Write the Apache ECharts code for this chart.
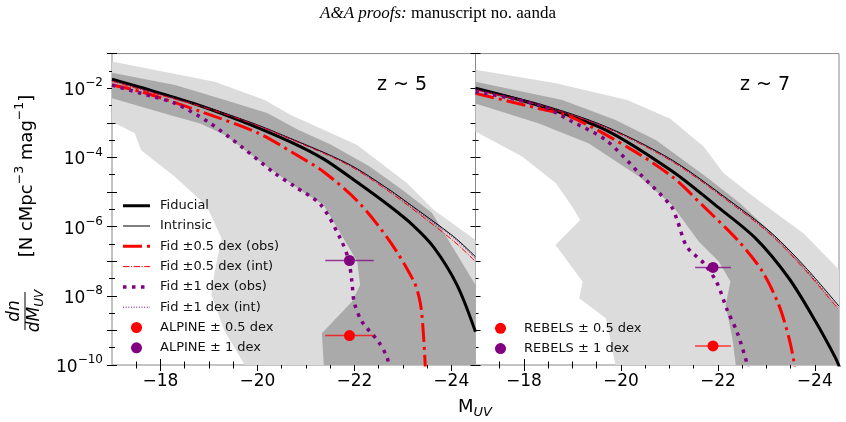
<!DOCTYPE html>
<html lang="en">
<head>
<meta charset="UTF-8">
<title>UV LF</title>
<script src="https://cdn.jsdelivr.net/npm/echarts@6/dist/echarts.min.js"></script>
<style>html,body{margin:0;padding:0;background:#fff}</style>
</head>
<body>
<div id="main" style="width:846px;height:422px"></div>
<script>
// every point is [M_UV, log10(dn/dM_UV)]

// z ~ 5 panel
var z5_fiducial = [[-17,-1.74],[-17.6,-1.98],[-18.64,-2.42],[-19.67,-2.95],[-20.68,-3.55],[-21.37,-4.05],[-22.06,-4.72],[-22.74,-5.42],[-23.2,-5.95],[-23.64,-6.6],[-24.12,-7.69],[-24.5,-9.04]];
var z5_intrinsic = [[-17,-1.74],[-18,-2.16],[-19,-2.57],[-20,-3.06],[-20.68,-3.45],[-21.57,-3.98],[-22.06,-4.33],[-22.74,-4.95],[-23.09,-5.3],[-24.05,-6.29],[-24.5,-6.87]];
var z5_halfObs = [[-17,-1.91],[-17.6,-2.1],[-18.84,-2.68],[-20.02,-3.3],[-20.75,-3.88],[-21.37,-4.42],[-22.09,-5.3],[-22.74,-6.44],[-23.23,-7.59],[-23.36,-8.2],[-23.42,-9.0],[-23.47,-10.2]];
var z5_halfInt = [[-17,-1.8],[-18,-2.2],[-19,-2.6],[-20,-3.08],[-20.68,-3.47],[-21.57,-4.01],[-22.06,-4.37],[-22.74,-5.01],[-23.09,-5.37],[-24.05,-6.42],[-24.5,-7.01]];
var z5_oneObs = [[-17,-1.91],[-17.6,-2.15],[-18.3,-2.44],[-18.98,-2.97],[-19.67,-3.69],[-20.36,-4.46],[-20.77,-4.84],[-21.3,-5.36],[-21.71,-6.34],[-21.88,-6.95],[-21.95,-7.6],[-22.0,-8.2],[-22.16,-8.75],[-22.5,-9.33],[-22.68,-9.8],[-22.72,-10.2]];
var z5_oneInt = [[-17,-1.78],[-18,-2.18],[-19,-2.58],[-20,-3.07],[-20.68,-3.46],[-21.57,-3.99],[-22.06,-4.35],[-22.74,-4.97],[-23.09,-5.33],[-24.05,-6.33],[-24.5,-6.92]];
var z5_lightTop = [[-17,-1.23],[-19.12,-1.81],[-20.15,-2.34],[-20.68,-2.77],[-22.06,-3.64],[-23.09,-4.75],[-23.64,-5.52],[-24.5,-6.39]];
var z5_lightBottom = [[-24.5,-10],[-19.74,-10],[-19.33,-9.04],[-19.05,-7.98],[-19.12,-7.3],[-19.26,-6.34],[-18.95,-5.4],[-18.3,-4.56],[-17.6,-3.79],[-17.47,-3.3],[-17,-2.97]];
var z5_darkTop = [[-17,-1.55],[-18.3,-1.91],[-19.33,-2.34],[-20.2,-2.72],[-20.84,-3.2],[-21.5,-3.62],[-22.3,-4.25],[-23.0,-4.95],[-23.6,-5.6],[-24.5,-7.69]];
var z5_darkBottom = [[-24.5,-10],[-21.37,-10],[-21.33,-9.08],[-21.95,-8.17],[-22.12,-7.69],[-22.06,-7.01],[-21.37,-5.38],[-20.88,-4.94],[-20.2,-4.27],[-19.33,-3.35],[-18.82,-3.02],[-18.3,-2.82],[-17,-2.29]];
var z5_pointHalf = [-21.9, -9.15], z5_pointOne = [-21.9, -6.98], z5_xerr = 0.5;

// z ~ 7 panel
var z7_fiducial = [[-17,-2.0],[-18.31,-2.5],[-19.69,-3.21],[-21.06,-4.4],[-21.95,-5.38],[-22.78,-6.34],[-23.47,-7.5],[-24.02,-8.75],[-24.43,-9.8],[-24.52,-10.1]];
var z7_intrinsic = [[-17,-2.0],[-18.31,-2.45],[-19.69,-3.11],[-21.06,-4.08],[-22.37,-5.38],[-23.12,-6.2],[-23.81,-7.18],[-24.5,-8.3]];
var z7_halfObs = [[-17,-2.15],[-18.31,-2.59],[-19.0,-2.85],[-20.24,-3.79],[-21.06,-4.56],[-21.68,-5.38],[-22.44,-6.44],[-22.92,-7.3],[-23.26,-8.27],[-23.47,-9.23],[-23.57,-9.9],[-23.6,-10.2]];
var z7_halfInt = [[-17,-2.05],[-18.31,-2.49],[-19.69,-3.14],[-21.06,-4.12],[-22.37,-5.43],[-23.12,-6.27],[-23.81,-7.27],[-24.5,-8.41]];
var z7_oneObs = [[-17,-2.1],[-18.31,-2.49],[-19.0,-2.97],[-19.69,-3.5],[-20.38,-4.46],[-21.03,-5.4],[-21.16,-5.81],[-21.36,-6.58],[-21.71,-7.06],[-21.98,-7.62],[-22.19,-8.4],[-22.4,-9.06],[-22.6,-9.95],[-22.63,-10.2]];
var z7_oneInt = [[-17,-2.03],[-18.31,-2.47],[-19.69,-3.13],[-21.06,-4.1],[-22.37,-5.41],[-23.12,-6.24],[-23.81,-7.23],[-24.5,-8.36]];
var z7_lightTop = [[-17,-1.47],[-18.66,-1.86],[-20.13,-2.34],[-21.02,-2.88],[-21.71,-3.69],[-22.12,-4.46],[-22.74,-5.14],[-23.77,-6.2],[-24.5,-7.25]];
var z7_lightBottom = [[-24.5,-10],[-19.89,-10],[-19.69,-8.65],[-19.14,-8.07],[-19.21,-7.59],[-18.65,-6.53],[-19.16,-5.81],[-19.0,-5.43],[-18.66,-4.75],[-17.97,-3.98],[-17,-3.25]];
var z7_darkTop = [[-17,-1.81],[-18.79,-2.34],[-19.89,-2.92],[-20.72,-3.5],[-21.75,-4.55],[-22.44,-5.3],[-23.2,-6.3],[-23.9,-7.35],[-24.5,-8.4]];
var z7_darkBottom = [[-24.5,-10],[-22.37,-10],[-22.3,-9.23],[-22.16,-8.27],[-22.26,-7.59],[-22.02,-7.01],[-21.61,-6.44],[-21.06,-5.38],[-20.38,-4.56],[-19.34,-3.6],[-18.31,-3.02],[-17,-2.44]];
var z7_pointHalf = [-21.9, -9.45], z7_pointOne = [-21.9, -7.18], z7_xerr = 0.37;

// axis ticks
var xMajor = [-24, -22, -20, -18];
var xMinor = [-23.5, -23, -22.5, -21.5, -21, -20.5, -19.5, -19, -18.5, -17.5];
var yMajor = [-10, -9, -8, -7, -6, -5, -4, -3, -2, -1];
var yMinor = [-9.5, -8.5, -7.5, -6.5, -5.5, -4.5, -3.5, -2.5, -1.5];
var yLabels = [-10, -8, -6, -4, -2];

var FONT = 'DejaVu Sans';
var RED = '#ff0000', PURPLE = '#800080';

// line styles: [colour, width, dash]
var styles = {
    fid: ['#000', 3, 'solid'],
    intr: ['#000', 1, 'solid'],
    halfObs: [RED, 3, [19, 5, 3, 5]],
    halfInt: [RED, 1, [6.4, 1.6, 1, 1.6]],
    oneObs: [PURPLE, 3.5, [3.5, 5.5]],
    oneInt: [PURPLE, 1, [1, 1.65]]
};

var chart = echarts.init(document.getElementById('main'));

function tickAxis(kind, g, vals, len, inside, labels) {
    var a = {
        type: 'value', gridIndex: g,
        splitLine: {show: false},
        axisLine: {show: false, onZero: false},
        axisTick: {show: true, customValues: vals, length: len, inside: inside, lineStyle: {color: '#000', width: 1}},
        axisLabel: {show: false}
    };
    if (kind === 'x') {
        a.min = -24.5; a.max = -17; a.inverse = true; a.position = 'bottom';
        if (labels) a.axisLabel = {show: true, customValues: xMajor, margin: 8, fontSize: 17, fontFamily: FONT, color: '#000',
            formatter: function (v) { return '\u2212' + Math.abs(v); }};
    } else {
        a.min = -10; a.max = -1; a.position = 'left';
        if (labels) a.axisLabel = {show: true, customValues: yLabels, margin: 9, fontFamily: FONT, color: '#000',
            formatter: function (v) { return '{b|10}{s|\u2212' + Math.abs(v) + '}'; },
            rich: {b: {fontSize: 17, fontFamily: FONT, color: '#000', verticalAlign: 'bottom'},
                   s: {fontSize: 12, fontFamily: FONT, color: '#000', padding: [0, 0, 10, 0], verticalAlign: 'bottom'}}};
    }
    return a;
}

var xAxes = [], yAxes = [];
[0, 1].forEach(function (g) {
    xAxes.push(tickAxis('x', g, xMajor, 6, false, true));
    xAxes.push(tickAxis('x', g, xMajor, 6, true, false));
    xAxes.push(tickAxis('x', g, xMinor, 3.5, false, false));
    xAxes.push(tickAxis('x', g, xMinor, 3.5, true, false));
    yAxes.push(tickAxis('y', g, yMajor, 5, false, g === 0));
    yAxes.push(tickAxis('y', g, yMajor, 5, true, false));
    yAxes.push(tickAxis('y', g, yMinor, 3, false, false));
    yAxes.push(tickAxis('y', g, yMinor, 3, true, false));
});

var series = [];
function band(top, bottom, color, g) {
    var poly = top.concat(bottom);
    series.push({
        type: 'custom', xAxisIndex: g * 4, yAxisIndex: g * 4, silent: true, z: 1,
        data: [poly[0]],
        renderItem: function (params, api) {
            return {type: 'polygon', shape: {points: poly.map(function (p) { return api.coord(p); })},
                    style: {fill: color}};
        }
    });
}
function curve(name, data, g, st) {
    series.push({
        name: name, type: 'line', xAxisIndex: g * 4, yAxisIndex: g * 4, data: data,
        symbol: 'none', smooth: 0.3, silent: true, z: 3, color: st[0],
        lineStyle: {color: st[0], width: st[1], type: st[2]}
    });
}
function point(name, p, err, g, color) {
    series.push({
        type: 'line', xAxisIndex: g * 4, yAxisIndex: g * 4, symbol: 'none', silent: true, z: 4,
        data: [[p[0] + err, p[1]], [p[0] - err, p[1]]],
        lineStyle: {color: color, width: 1.5, opacity: 0.75}
    });
    series.push({
        name: name, type: 'scatter', xAxisIndex: g * 4, yAxisIndex: g * 4, silent: true, z: 5,
        data: [p], symbolSize: 11, itemStyle: {color: color, opacity: 1}
    });
}

function panel(g, d, survey) {
    band(d.lightTop, d.lightBottom, '#dcdcdc', g);
    band(d.darkTop, d.darkBottom, '#aaaaaa', g);
    curve('Fiducial', d.fiducial, g, styles.fid);
    curve('Intrinsic', d.intrinsic, g, styles.intr);
    curve('Fid \u00b10.5 dex (obs)', d.halfObs, g, styles.halfObs);
    curve('Fid \u00b10.5 dex (int)', d.halfInt, g, styles.halfInt);
    curve('Fid \u00b11 dex (obs)', d.oneObs, g, styles.oneObs);
    curve('Fid \u00b11 dex (int)', d.oneInt, g, styles.oneInt);
    point(survey + ' \u00b1 0.5 dex', d.pointHalf, d.xerr, g, RED);
    point(survey + ' \u00b1 1 dex', d.pointOne, d.xerr, g, PURPLE);
}

panel(0, {fiducial: z5_fiducial, intrinsic: z5_intrinsic, halfObs: z5_halfObs, halfInt: z5_halfInt,
          oneObs: z5_oneObs, oneInt: z5_oneInt, lightTop: z5_lightTop, lightBottom: z5_lightBottom,
          darkTop: z5_darkTop, darkBottom: z5_darkBottom, pointHalf: z5_pointHalf, pointOne: z5_pointOne, xerr: z5_xerr}, 'ALPINE');
panel(1, {fiducial: z7_fiducial, intrinsic: z7_intrinsic, halfObs: z7_halfObs, halfInt: z7_halfInt,
          oneObs: z7_oneObs, oneInt: z7_oneInt, lightTop: z7_lightTop, lightBottom: z7_lightBottom,
          darkTop: z7_darkTop, darkBottom: z7_darkBottom, pointHalf: z7_pointHalf, pointOne: z7_pointOne, xerr: z7_xerr}, 'REBELS');

function svgIcon(inner) {
    return 'image://data:image/svg+xml;utf8,' + encodeURIComponent(
        '<svg xmlns="http://www.w3.org/2000/svg" width="27" height="14">' + inner + '</svg>');
}
function dotIcon(c) {
    return svgIcon('<line x1="8" y1="7" x2="19" y2="7" stroke="' + c + '" stroke-width="1.5"/>' +
                   '<circle cx="13.5" cy="7" r="5.5" fill="' + c + '"/>');
}
function lineIcon(st) {
    var dash = st[2] === 'solid' ? '' : ' stroke-dasharray="' + st[2].join(' ') + '"';
    return svgIcon('<line x1="0" y1="7" x2="27" y2="7" stroke="' + st[0] + '" stroke-width="' + st[1] + '"' + dash + '/>');
}

var legendText = {fontSize: 13, fontFamily: FONT, color: '#111', lineHeight: 14, padding: [0, 0, 0, 5]};
var legendBase = {orient: 'vertical', itemWidth: 27, itemHeight: 14, itemGap: 6.3, padding: 0, selectedMode: false,
                  textStyle: legendText};

var option = {
    animation: false,
    backgroundColor: '#fff',
    grid: [
        {left: 112, top: 53.6, width: 363.5, height: 311.4, show: true, borderColor: '#888', borderWidth: 1, backgroundColor: 'transparent'},
        {left: 475.5, top: 53.6, width: 363.5, height: 311.4, show: true, borderColor: '#888', borderWidth: 1, backgroundColor: 'transparent'}
    ],
    xAxis: xAxes,
    yAxis: yAxes,
    legend: [
        Object.assign({left: 123, top: 198.7, data: [
            {name: 'Fiducial', icon: lineIcon(styles.fid)},
            {name: 'Intrinsic', icon: lineIcon(styles.intr)},
            {name: 'Fid \u00b10.5 dex (obs)', icon: lineIcon(styles.halfObs)},
            {name: 'Fid \u00b10.5 dex (int)', icon: lineIcon(styles.halfInt)},
            {name: 'Fid \u00b11 dex (obs)', icon: lineIcon(styles.oneObs)},
            {name: 'Fid \u00b11 dex (int)', icon: lineIcon(styles.oneInt)},
            {name: 'ALPINE \u00b1 0.5 dex', icon: dotIcon(RED)},
            {name: 'ALPINE \u00b1 1 dex', icon: dotIcon(PURPLE)}
        ]}, legendBase),
        Object.assign({left: 487, top: 321.3, data: [
            {name: 'REBELS \u00b1 0.5 dex', icon: dotIcon(RED)},
            {name: 'REBELS \u00b1 1 dex', icon: dotIcon(PURPLE)}
        ]}, legendBase)
    ],
    graphic: [
        {type: 'text', x: 438, y: 14, style: {text: '{i|A&A proofs:}{n| manuscript no. aanda}', align: 'center', verticalAlign: 'middle',
            rich: {i: {fontFamily: 'Liberation Serif', fontStyle: 'italic', fontSize: 17, fill: '#000'},
                   n: {fontFamily: 'Liberation Serif', fontSize: 17, fill: '#000'}}}},
        {type: 'text', x: 402, y: 85, style: {text: 'z ~ 5', fontFamily: FONT, fontSize: 19, fill: '#000', align: 'center', verticalAlign: 'middle'}},
        {type: 'text', x: 765, y: 85, style: {text: 'z ~ 7', fontFamily: FONT, fontSize: 19, fill: '#000', align: 'center', verticalAlign: 'middle'}},
        {type: 'text', x: 475, y: 409, style: {text: '{m|M}{u|UV}', align: 'center', verticalAlign: 'middle',
            rich: {m: {fontFamily: FONT, fontSize: 18, fill: '#000', verticalAlign: 'top'},
                   u: {fontFamily: FONT, fontSize: 13, fontStyle: 'italic', fill: '#000', padding: [8, 0, 0, 0], verticalAlign: 'top'}}}},
        {type: 'group', x: 25, y: 176, rotation: Math.PI / 2, children: [
            {type: 'text', style: {text: '{b|[N cMpc}{s|\u22123}{b| mag}{s|\u22121}{b|]}', align: 'center', verticalAlign: 'middle',
                rich: {b: {fontFamily: FONT, fontSize: 18, fill: '#000', verticalAlign: 'bottom'},
                       s: {fontFamily: FONT, fontSize: 12.5, fill: '#000', padding: [0, 0, 10, 0], verticalAlign: 'bottom'}}}}
        ]},
        {type: 'group', x: 25, y: 311, rotation: Math.PI / 2, children: [
            {type: 'text', x: 0, y: -10, style: {text: 'dn', fontFamily: FONT, fontStyle: 'italic', fontSize: 17, fill: '#000', align: 'center', verticalAlign: 'middle'}},
            {type: 'line', shape: {x1: -19, y1: 0, x2: 19, y2: 0}, style: {stroke: '#000', lineWidth: 1}},
            {type: 'text', x: 0, y: 11, style: {text: '{m|dM}{u|UV}', align: 'center', verticalAlign: 'middle',
                rich: {m: {fontFamily: FONT, fontStyle: 'italic', fontSize: 17, fill: '#000', verticalAlign: 'top'},
                       u: {fontFamily: FONT, fontStyle: 'italic', fontSize: 12, fill: '#000', padding: [7, 0, 0, 0], verticalAlign: 'top'}}}}
        ]}
    ],
    series: series
};

chart.setOption(option);
</script>
</body>
</html>
